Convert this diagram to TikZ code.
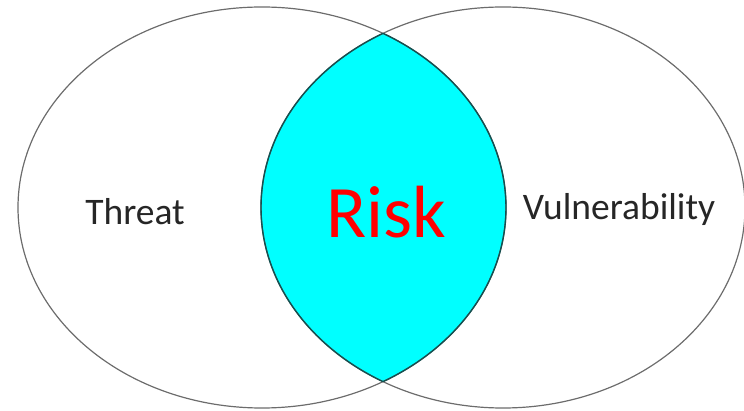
\documentclass[tikz,border=0pt]{standalone}
\usepackage{fontspec}
\setmainfont{Carlito}
\usepackage{tikz}
\definecolor{riskfill}{RGB}{0,255,255}
\definecolor{lensedge}{RGB}{20,80,80}

\begin{document}
\begin{tikzpicture}[x=1pt,y=-1pt,
    setline/.style={draw=gray!85!black, line width=1.2pt},
    lensline/.style={draw=lensedge, line width=1.4pt},
    setlabel/.style={font=\fontsize{37.5}{40}\selectfont, text=black!85}]
  \useasboundingbox (0,0) rectangle (744,411);
  % the intersection
  \begin{scope}
    \clip (262,207.5) ellipse (244 and 200.5);
    \fill[riskfill] (503,207.5) ellipse (242 and 200.5);
  \end{scope}
  \draw[setline] (262,207.5) ellipse (244 and 200.5);
  \draw[setline] (503,207.5) ellipse (242 and 200.5);
  \begin{scope}
    \clip (262,207.5) ellipse (244 and 200.5);
    \draw[lensline] (503,207.5) ellipse (242 and 200.5);
  \end{scope}
  \begin{scope}
    \clip (503,207.5) ellipse (242 and 200.5);
    \draw[lensline] (262,207.5) ellipse (244 and 200.5);
  \end{scope}
  \node[setlabel] at (135,212) (threat) {Threat};
  \node[setlabel] at (619,210) (vuln) {Vulnerability};
  \node[font=\fontsize{74}{80}\selectfont, text=red] at (386,212) (risk) {Risk};
\end{tikzpicture}
\end{document}
